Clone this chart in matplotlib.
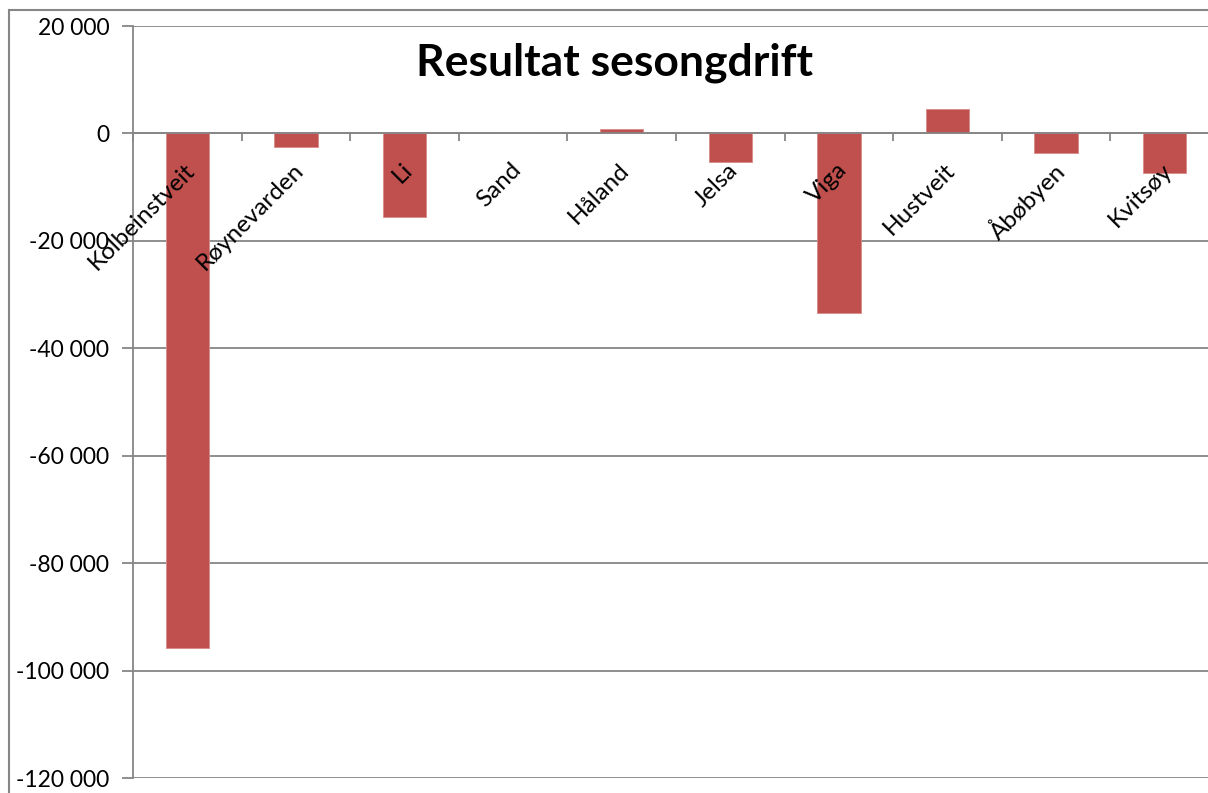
import numpy as np
import matplotlib
matplotlib.use("Agg")
import matplotlib.pyplot as plt
import matplotlib.ticker as mticker
from matplotlib.transforms import ScaledTranslation
from matplotlib.patches import Rectangle

# data
places = ["Kolbeinstveit", "Røynevarden", "Li", "Sand", "Håland",
          "Jelsa", "Viga", "Hustveit", "Åbøbyen", "Kvitsøy"]
result = [-95700, -2600, -15500, 0, 800, -5400, -33400, 4500, -3700, -7400]
y_ticks = [20000, 0, -20000, -40000, -60000, -80000, -100000, -120000]

plt.rcParams["font.family"] = ["Lato", "DejaVu Sans"]
grey = "#868686"

fig = plt.figure(figsize=(12.08, 7.93), dpi=100)
ax = fig.add_axes([133 / 1208, 1 - 778.3 / 793, 1086 / 1208, (778.3 - 26) / 793])

x = np.arange(len(places))
ax.bar(x, result, width=0.4, color="#C0504D", edgecolor="#D98A88", linewidth=0.6, zorder=3)

ax.set_xlim(-0.5, len(places) - 0.5)
ax.set_ylim(-120000, 20000)
ax.set_yticks(y_ticks)
ax.yaxis.set_major_formatter(mticker.FuncFormatter(lambda v, p: f"{int(v):,}".replace(",", " ")))
ax.grid(axis="y", color=grey, linewidth=1.3)
ax.tick_params(axis="y", length=8, width=1.3, color=grey, pad=9, labelsize=16.5)
# grid under the bars, category labels over them
ax.yaxis.set_zorder(1)
ax.xaxis.set_zorder(5)

# category axis sits on zero, tick marks between categories
ax.spines["bottom"].set_position(("data", 0))
ax.spines["bottom"].set_color(grey)
ax.spines["bottom"].set_linewidth(1.3)
ax.spines["bottom"].set_zorder(4)
ax.spines["left"].set_color(grey)
ax.spines["left"].set_linewidth(1.3)
ax.spines["top"].set_visible(False)
ax.spines["right"].set_visible(False)
ax.set_xticks(x)
ax.set_xticklabels(places)
ax.set_xticks(np.arange(len(places) + 1) - 0.5, minor=True)
ax.tick_params(axis="x", which="major", length=0, pad=24, labelsize=17.5)
ax.tick_params(axis="x", which="minor", length=6, width=1.3, color=grey, direction="out")
for lab in ax.get_xticklabels():
    lab.set_rotation(45)
    lab.set_ha("right")
    lab.set_va("center")
    lab.set_rotation_mode("anchor")
    lab.set_transform(lab.get_transform() + ScaledTranslation(0.045, 0, fig.dpi_scale_trans))

ax.text(0.443, 0.951, "Resultat sesongdrift", transform=ax.transAxes, ha="center", va="center",
        fontsize=32, fontweight="bold")

# outer chart frame
fig.patches.append(Rectangle((9 / 1208, -0.1), 1.2, 1 - 10 / 793 + 0.1, transform=fig.transFigure,
                             fill=False, edgecolor=grey, linewidth=1.5))

fig.savefig("out.png", dpi=100)
